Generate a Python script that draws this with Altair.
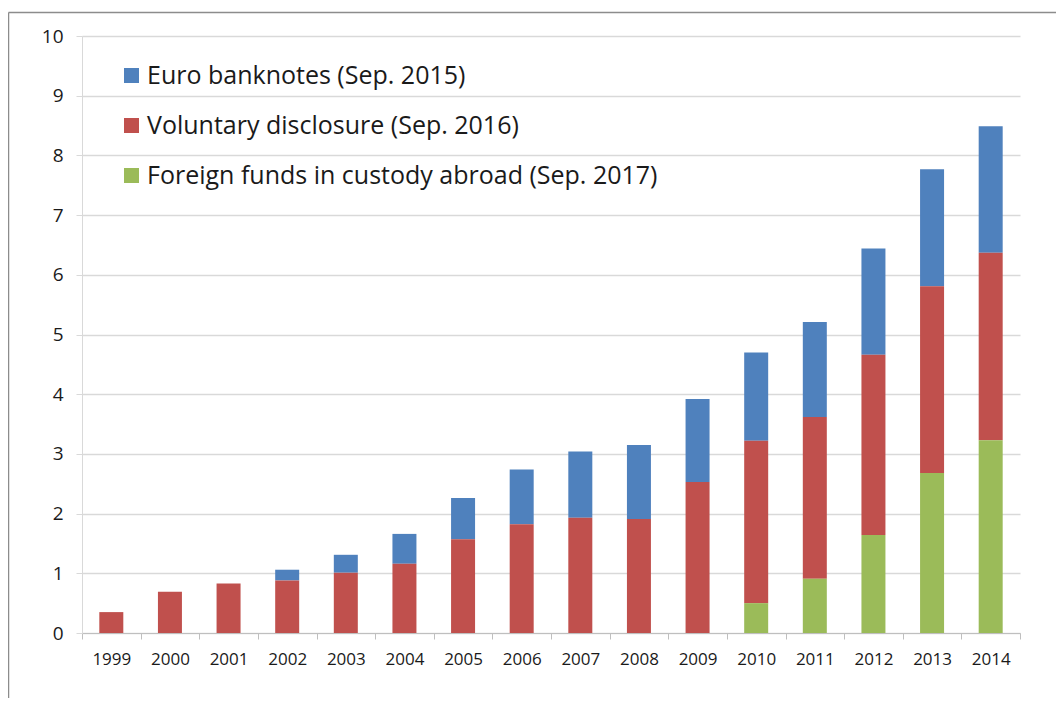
import altair as alt
import pandas as pd

years = ["1999", "2000", "2001", "2002", "2003", "2004", "2005", "2006",
         "2007", "2008", "2009", "2010", "2011", "2012", "2013", "2014"]
foreign = [0, 0, 0, 0, 0, 0, 0, 0, 0, 0, 0, 0.50, 0.91, 1.64, 2.68, 3.23]
voluntary = [0.35, 0.69, 0.83, 0.88, 1.01, 1.16, 1.57, 1.82, 1.93, 1.91,
             2.53, 2.72, 2.71, 3.02, 3.13, 3.14]
euro = [0, 0, 0, 0.18, 0.30, 0.50, 0.69, 0.92, 1.11, 1.24, 1.39, 1.48,
        1.59, 1.78, 1.96, 2.12]

series = ["Euro banknotes (Sep. 2015)",
          "Voluntary disclosure (Sep. 2016)",
          "Foreign funds in custody abroad (Sep. 2017)"]
colors = ["#4F81BD", "#C0504D", "#9BBB59"]
stack_rank = [2, 1, 0]

rows = []
for name, vals, rank in zip(series, [euro, voluntary, foreign], stack_rank):
    for y, v in zip(years, vals):
        rows.append({"year": y, "series": name, "value": v, "rank": rank})
df = pd.DataFrame(rows)

FONT = "Open Sans"

bars = alt.Chart(df).mark_bar(size=24).encode(
    x=alt.X("year:N", sort=years, title=None,
            scale=alt.Scale(paddingInner=0, paddingOuter=0),
            axis=alt.Axis(labelAngle=0, tickBand="extent", tickSize=6,
                          tickColor="#BFBFBF", domainColor="#BFBFBF",
                          labelFontSize=17, labelPadding=12,
                          labelColor="#1a1a1a", labelFont=FONT, grid=False)),
    y=alt.Y("value:Q", stack="zero", title=None,
            scale=alt.Scale(domain=[0, 10], nice=False),
            axis=alt.Axis(values=list(range(0, 11)), tickSize=6,
                          tickColor="#D9D9D9", domainColor="#D9D9D9",
                          gridColor="#D9D9D9", gridWidth=1.5,
                          labelFontSize=19, labelPadding=13,
                          labelColor="#1a1a1a", labelFont=FONT)),
    color=alt.Color("series:N", sort=series,
                    scale=alt.Scale(domain=series, range=colors),
                    legend=alt.Legend(title=None, orient="none",
                                      legendX=37, legendY=27,
                                      symbolType="square", symbolSize=225,
                                      symbolStrokeWidth=0,
                                      labelFontSize=25, labelFont=FONT,
                                      labelColor="#1a1a1a", labelOffset=3,
                                      rowPadding=24, padding=0,
                                      labelLimit=700)),
    order=alt.Order("rank:Q", sort="ascending"),
)

frame_df = pd.DataFrame({"k": [0]})
frame_left = alt.Chart(frame_df).mark_rule(
    stroke="#8c8c8c", strokeWidth=1.5
).encode(x=alt.value(-73.5), y=alt.value(-23.5), y2=alt.value(800))
frame_top = alt.Chart(frame_df).mark_rule(
    stroke="#8c8c8c", strokeWidth=1.5
).encode(x=alt.value(-73.5), x2=alt.value(1100), y=alt.value(-23.5))

chart = alt.layer(frame_left, frame_top, bars).properties(
    width=938, height=597,
    padding={"left": 74, "top": 28, "right": 36, "bottom": 65},
    autosize=alt.AutoSizeParams(type="none"),
).configure_view(stroke=None)

chart.save("out.html", embed_options={"renderer": "svg", "actions": False})
